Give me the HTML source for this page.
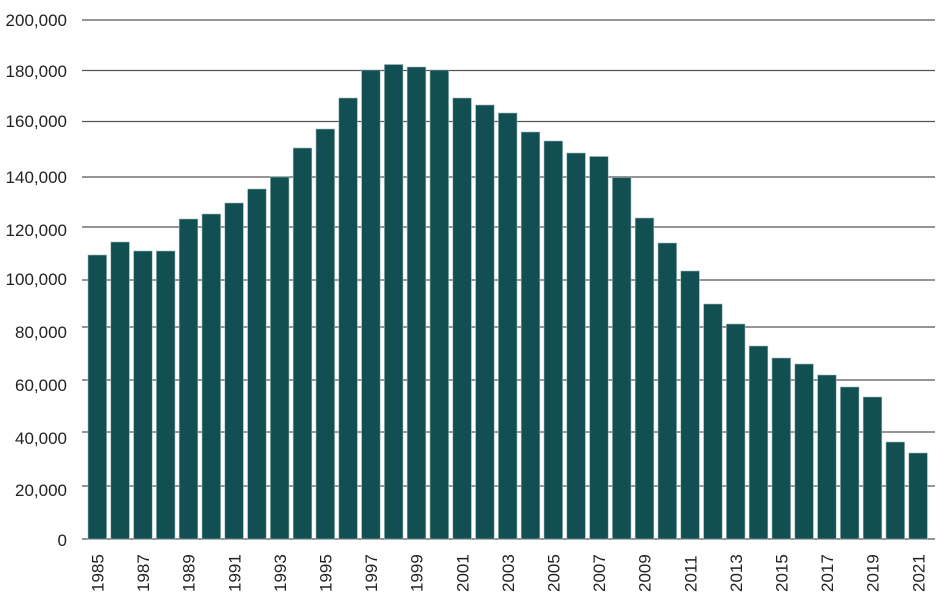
<!DOCTYPE html>
<html><head><meta charset="utf-8"><style>
html,body{margin:0;padding:0;background:#fff;}
svg{display:block;font-family:"Liberation Sans",sans-serif;}
</style></head><body>
<svg width="950" height="604" viewBox="0 0 950 604">
<g stroke="#555" stroke-width="1.2">
<line x1="82" y1="20" x2="935" y2="20"/>
<line x1="82" y1="70.5" x2="935" y2="70.5"/>
<line x1="82" y1="121.5" x2="935" y2="121.5"/>
<line x1="82" y1="177" x2="935" y2="177"/>
<line x1="82" y1="227" x2="935" y2="227"/>
<line x1="82" y1="280" x2="935" y2="280"/>
<line x1="82" y1="327" x2="935" y2="327"/>
<line x1="82" y1="380" x2="935" y2="380"/>
<line x1="82" y1="432" x2="935" y2="432"/>
<line x1="82" y1="486" x2="935" y2="486"/>
<line x1="82" y1="539" x2="935" y2="539"/>
</g>
<g font-size="17" fill="#222" text-anchor="end">
<text x="67" y="26">200,000</text>
<text x="67" y="77">180,000</text>
<text x="67" y="127">160,000</text>
<text x="67" y="183">140,000</text>
<text x="67" y="236">120,000</text>
<text x="67" y="285">100,000</text>
<text x="67" y="338">80,000</text>
<text x="67" y="391">60,000</text>
<text x="67" y="444">40,000</text>
<text x="67" y="496">20,000</text>
<text x="67" y="546">0</text>
</g>
<g fill="#124f53" stroke="#9fb9ba" stroke-width="0.6">
<rect x="88" y="255" width="18.6" height="284"/>
<rect x="110.8" y="242" width="18.6" height="297"/>
<rect x="133.6" y="251" width="18.6" height="288"/>
<rect x="156.4" y="251" width="18.6" height="288"/>
<rect x="179.2" y="219" width="18.6" height="320"/>
<rect x="202" y="214" width="18.6" height="325"/>
<rect x="224.8" y="203" width="18.6" height="336"/>
<rect x="247.6" y="189" width="18.6" height="350"/>
<rect x="270.4" y="177" width="18.6" height="362"/>
<rect x="293.2" y="148" width="18.6" height="391"/>
<rect x="316" y="129" width="18.6" height="410"/>
<rect x="338.8" y="98" width="18.6" height="441"/>
<rect x="361.6" y="70" width="18.6" height="469"/>
<rect x="384.4" y="64.5" width="18.6" height="474.5"/>
<rect x="407.2" y="67" width="18.6" height="472"/>
<rect x="430" y="70" width="18.6" height="469"/>
<rect x="452.8" y="98" width="18.6" height="441"/>
<rect x="475.6" y="105" width="18.6" height="434"/>
<rect x="498.4" y="113" width="18.6" height="426"/>
<rect x="521.2" y="132" width="18.6" height="407"/>
<rect x="544" y="141" width="18.6" height="398"/>
<rect x="566.8" y="153" width="18.6" height="386"/>
<rect x="589.6" y="156.5" width="18.6" height="382.5"/>
<rect x="612.4" y="177.5" width="18.6" height="361.5"/>
<rect x="635.2" y="218" width="18.6" height="321"/>
<rect x="658" y="243" width="18.6" height="296"/>
<rect x="680.8" y="271" width="18.6" height="268"/>
<rect x="703.6" y="304" width="18.6" height="235"/>
<rect x="726.4" y="324" width="18.6" height="215"/>
<rect x="749.2" y="346" width="18.6" height="193"/>
<rect x="772" y="358" width="18.6" height="181"/>
<rect x="794.8" y="364" width="18.6" height="175"/>
<rect x="817.6" y="375" width="18.6" height="164"/>
<rect x="840.4" y="387" width="18.6" height="152"/>
<rect x="863.2" y="397" width="18.6" height="142"/>
<rect x="886" y="442" width="18.6" height="97"/>
<rect x="908.8" y="453" width="18.6" height="86"/>
</g>
<g font-size="17" fill="#222">
<text transform="translate(103.5,592) rotate(-90)">1985</text>
<text transform="translate(149.1,592) rotate(-90)">1987</text>
<text transform="translate(194.7,592) rotate(-90)">1989</text>
<text transform="translate(240.3,592) rotate(-90)">1991</text>
<text transform="translate(285.9,592) rotate(-90)">1993</text>
<text transform="translate(331.5,592) rotate(-90)">1995</text>
<text transform="translate(377.1,592) rotate(-90)">1997</text>
<text transform="translate(422.7,592) rotate(-90)">1999</text>
<text transform="translate(468.3,592) rotate(-90)">2001</text>
<text transform="translate(513.9,592) rotate(-90)">2003</text>
<text transform="translate(559.5,592) rotate(-90)">2005</text>
<text transform="translate(605.1,592) rotate(-90)">2007</text>
<text transform="translate(650.7,592) rotate(-90)">2009</text>
<text transform="translate(696.3,592) rotate(-90)">2011</text>
<text transform="translate(741.9,592) rotate(-90)">2013</text>
<text transform="translate(787.5,592) rotate(-90)">2015</text>
<text transform="translate(833.1,592) rotate(-90)">2017</text>
<text transform="translate(878.7,592) rotate(-90)">2019</text>
<text transform="translate(924.3,592) rotate(-90)">2021</text>
</g>
</svg>
</body></html>
